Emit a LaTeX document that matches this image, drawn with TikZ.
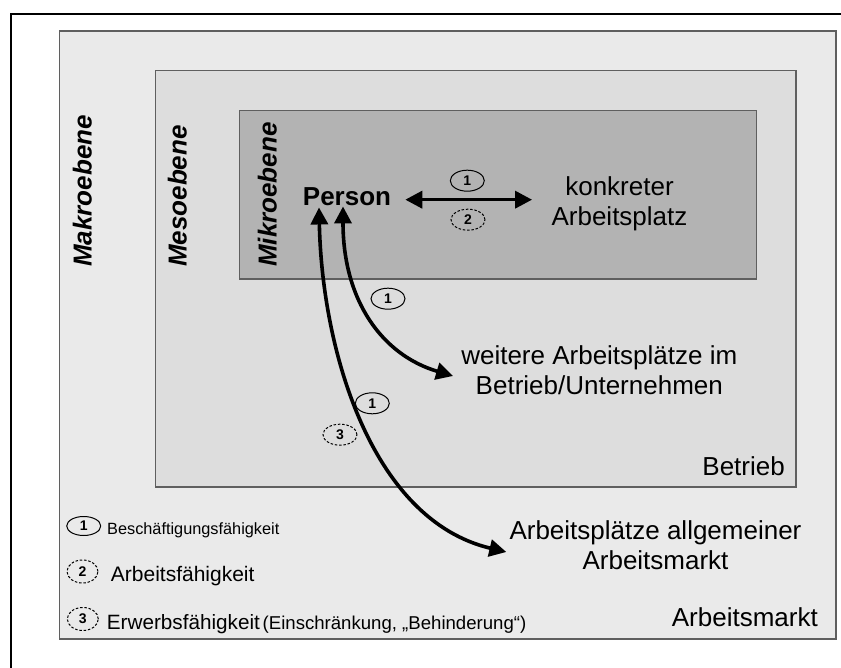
\documentclass[tikz,border=0pt]{standalone}
\usepackage{fontspec}
\setmainfont{Liberation Sans}
\usetikzlibrary{arrows.meta,shapes.geometric}
\definecolor{makrofill}{HTML}{EAEAEA}
\definecolor{mesofill}{HTML}{DDDDDD}
\definecolor{mikrofill}{HTML}{B3B3B3}
\definecolor{boxline}{HTML}{5F5F5F}
\begin{document}
\begin{tikzpicture}[x=1pt,y=-1pt,
  level/.style={fill=#1, draw=boxline, line width=1.4pt},
  lvllabel/.style={font=\fontsize{26}{30}\selectfont\bfseries\itshape, rotate=90, anchor=base west, inner sep=0pt},
  bigtext/.style={font=\fontsize{26}{30}\selectfont, align=center, inner sep=0pt},
  legendtext/.style={anchor=base west, inner sep=0pt},
  numtag/.style={ellipse, draw=black, line width=1pt, minimum width=34pt, minimum height=21pt, inner sep=0pt, font=\fontsize{14}{14}\selectfont\bfseries},
  numtagdash/.style={numtag, dash pattern=on 2.5pt off 1.8pt},
  link/.style={line width=3.6pt, {Triangle[length=17pt,width=17pt]}-{Triangle[length=17pt,width=17pt]}},
]
\useasboundingbox (0,0) rectangle (841,668);
\fill[white] (0,0) rectangle (841,668);

% page frame (top and left edges)
\draw[line width=2.3pt, line join=miter] (11.2,668) -- (11.2,14.2) -- (841,14.2);

% nested levels
\draw[level=makrofill] (59.5,31) rectangle (836,639);
\draw[level=mesofill] (155.3,70.7) rectangle (796,487);
\draw[level=mikrofill] (239.3,110.3) rectangle (756.7,279);

% level names
\node[lvllabel] (makro) at (91.7,267) {Makroebene};
\node[lvllabel] (meso) at (186.7,267) {Mesoebene};
\node[lvllabel] (mikro) at (276.7,267) {Mikroebene};

% corner labels
\node[font=\fontsize{26}{30}\selectfont, anchor=base east, inner sep=0pt] (betrieb) at (785,475) {Betrieb};
\node[font=\fontsize{26}{30}\selectfont, anchor=base east, inner sep=0pt] (markt) at (818,626.7) {Arbeitsmarkt};

% main items
\node[font=\fontsize{26}{30}\selectfont\bfseries, anchor=base, inner sep=0pt] (person) at (347,206) {Person};
\node[bigtext] (konk) at (619.5,204) {konkreter\\Arbeitsplatz};
\node[bigtext] (weitere) at (599.3,370) {weitere Arbeitsplätze im\\Betrieb/Unternehmen};
\node[bigtext] (allg) at (655.5,545.7) {Arbeitsplätze allgemeiner\\Arbeitsmarkt};

% connectors
\coordinate (hl) at ([xshift=14pt,yshift=-2.5pt]person.east);
\path (hl -| konk.west) coordinate (hr0);
\draw[link] (hl) -- ([xshift=-19.3pt]hr0);
\draw[link] ([xshift=-4pt]person.south) .. controls +(0,94) and +(-71,-21) .. ([shift={(-8pt,-6pt)}]weitere.west);
\draw[link] ([xshift=-28pt,yshift=-1pt]person.south) .. controls +(3,143) and +(-135,-32) .. ([shift={(-3pt,-6.3pt)}]allg.west);

% number tags on the connectors
\node[numtag] (t1a) at (467.3,180.7) {1};
\node[numtagdash] (t2a) at (468,219.7) {2};
\node[numtag] (t1b) at (388,298.7) {1};
\node[numtag] (t1c) at (372.3,403.3) {1};
\node[numtagdash] (t3a) at (340,434.7) {3};

% legend
\node[numtag, minimum height=19pt] (l1) at (83.7,526) {1};
\node[numtagdash, minimum width=31pt, minimum height=23pt] (l2) at (82.5,571.5) {2};
\node[numtagdash, minimum width=31pt, minimum height=23pt] (l3) at (82.8,619) {3};
\node[legendtext, font=\fontsize{16.3}{19}\selectfont] (lt1) at (107,534) {Beschäftigungsfähigkeit};
\node[legendtext, font=\fontsize{21}{24}\selectfont] (lt2) at (110.7,581.7) {Arbeitsfähigkeit};
\node[legendtext] (lt3) at (106.7,629.3) {{\fontsize{20.7}{24}\selectfont Erwerbsfähigkeit} {\fontsize{18.6}{22}\selectfont (Einschränkung, „Behinderung“)}};
\end{tikzpicture}
\end{document}
